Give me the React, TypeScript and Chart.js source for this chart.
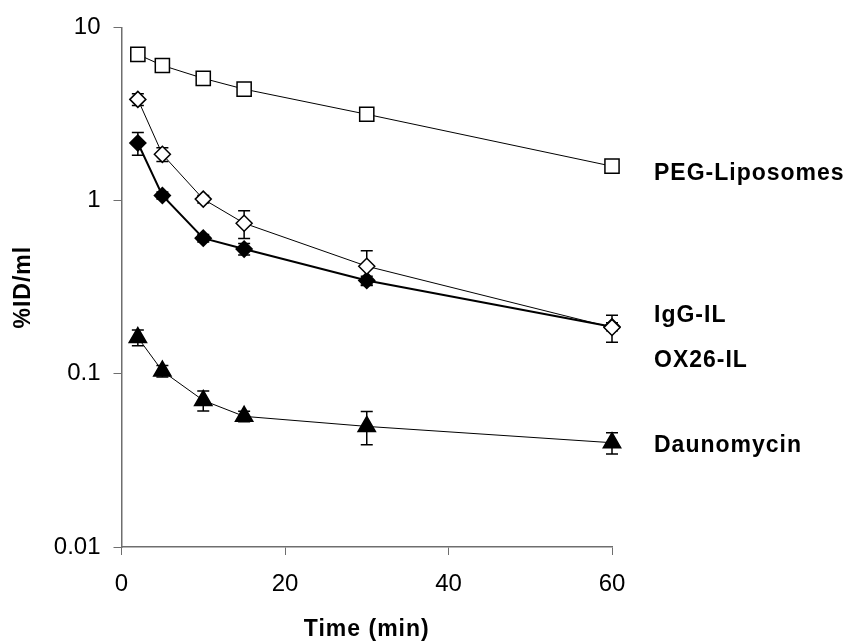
import React, { useEffect, useRef } from "react";
import { Chart, registerables } from "chart.js";

Chart.register(...registerables);

// ---- data ----
const timePoints = [2, 5, 10, 15, 30, 60];
const pegLiposomes = [6.98, 6.03, 5.08, 4.4, 3.15, 1.58];
const pegLiposomesErr = [0.2, 0.15, 0.12, 0.1, 0.08, 0.04];
const iggIL = [3.84, 1.85, 1.02, 0.74, 0.418, 0.185];
const iggILErr = [0.3, 0.17, 0.05, 0.135, 0.095, 0.033];
const ox26IL = [2.15, 1.07, 0.607, 0.525, 0.346, 0.187];
const ox26ILErr = [0.32, 0.05, 0.03, 0.04, 0.02, 0.01];
const daunomycin = [0.162, 0.1037, 0.0702, 0.0568, 0.0497, 0.04];
const daunomycinErr = [0.017, 0.008, 0.0093, 0.004, 0.0108, 0.0056];
const seriesNames = ["PEG-Liposomes", "IgG-IL", "OX26-IL", "Daunomycin"];
const xTicks = [0, 20, 40, 60];
const yTicks = [0.01, 0.1, 1, 10];
const xTitle = "Time (min)";
const yTitle = "%ID/ml";
// label anchor values (y, in data units) for the series names on the right
const labelAnchors = [1.43, 0.217, 0.119, 0.0385];

const FONT = "'Liberation Sans', Arial, Helvetica, sans-serif";

const toPoints = (ys: number[]) => ys.map((y, i) => ({ x: timePoints[i], y }));

const errorBarPlugin = {
  id: "errorBars",
  beforeDatasetsDraw(chart: any) {
    const ctx = chart.ctx;
    const xs = chart.scales.x;
    const ys = chart.scales.y;
    chart.data.datasets.forEach((ds: any) => {
      const errs: number[] | undefined = ds.errors;
      if (!errs) return;
      ctx.save();
      ctx.strokeStyle = "#000";
      ctx.lineWidth = 1.5;
      ds.data.forEach((p: any, j: number) => {
        const e = errs[j];
        if (!e) return;
        const px = xs.getPixelForValue(p.x);
        const top = ys.getPixelForValue(p.y + e);
        const bot = ys.getPixelForValue(p.y - e);
        ctx.beginPath();
        ctx.moveTo(px, top);
        ctx.lineTo(px, bot);
        ctx.moveTo(px - 6, top);
        ctx.lineTo(px + 6, top);
        ctx.moveTo(px - 6, bot);
        ctx.lineTo(px + 6, bot);
        ctx.stroke();
      });
      ctx.restore();
    });
  },
};

const textPlugin = {
  id: "texts",
  afterDraw(chart: any) {
    const ctx = chart.ctx;
    const area = chart.chartArea;
    const ys = chart.scales.y;
    ctx.save();
    ctx.fillStyle = "#000";
    ctx.font = `bold 23px ${FONT}`;
    try {
      (ctx as any).letterSpacing = "1px";
    } catch (e) {}
    ctx.textBaseline = "middle";
    ctx.textAlign = "left";
    seriesNames.forEach((name, i) => {
      ctx.fillText(name, area.right + 42, ys.getPixelForValue(labelAnchors[i]));
    });
    // x title
    ctx.textAlign = "center";
    ctx.fillText(xTitle, (area.left + area.right) / 2, 630);
    // y title
    ctx.save();
    ctx.translate(24, (area.top + area.bottom) / 2);
    ctx.rotate(-Math.PI / 2);
    ctx.fillText(yTitle, 0, 0);
    ctx.restore();
    ctx.restore();
  },
};

export default function App() {
  const ref = useRef<HTMLCanvasElement | null>(null);

  useEffect(() => {
    document.body.style.margin = "0";
    if (!ref.current) return;
    const common = {
      borderColor: "#000",
      pointBorderColor: "#000",
      pointBorderWidth: 1.5,
      tension: 0,
      fill: false,
      clip: false,
    };
    const chart = new Chart(ref.current, {
      type: "line",
      data: {
        datasets: [
          {
            ...common,
            label: seriesNames[0],
            data: toPoints(pegLiposomes),
            errors: pegLiposomesErr,
            borderWidth: 1,
            pointStyle: "rect",
            pointRadius: 10,
            pointBackgroundColor: "#fff",
          } as any,
          {
            ...common,
            label: seriesNames[1],
            data: toPoints(iggIL),
            errors: iggILErr,
            borderWidth: 1,
            pointStyle: "rectRot",
            pointRadius: 8,
            pointBackgroundColor: "#fff",
          } as any,
          {
            ...common,
            label: seriesNames[2],
            data: toPoints(ox26IL),
            errors: ox26ILErr,
            borderWidth: 2,
            pointStyle: "rectRot",
            pointRadius: 8,
            pointBackgroundColor: "#000",
          } as any,
          {
            ...common,
            label: seriesNames[3],
            data: toPoints(daunomycin),
            errors: daunomycinErr,
            borderWidth: 1,
            pointStyle: "triangle",
            pointRadius: 10,
            pointBackgroundColor: "#000",
          } as any,
        ],
      },
      options: {
        animation: false,
        responsive: false,
        devicePixelRatio: 1,
        layout: { padding: { top: 24, right: 238, bottom: 0, left: 0 } },
        plugins: {
          legend: { display: false },
          tooltip: { enabled: false },
          title: { display: false },
        },
        scales: {
          x: {
            type: "linear",
            min: 0,
            max: 60,
            afterFit: (s: any) => {
              s.height = 96;
            },
            afterBuildTicks: (s: any) => {
              s.ticks = xTicks.map((v) => ({ value: v }));
            },
            ticks: {
              color: "#000",
              font: { family: FONT, size: 24 },
              padding: 15,
              maxRotation: 0,
            },
            grid: {
              drawOnChartArea: false,
              drawTicks: true,
              tickLength: 8,
              color: "#6e6e6e",
              lineWidth: 1,
            },
            border: { display: true, color: "#6e6e6e", width: 1.5 },
          },
          y: {
            type: "logarithmic",
            min: 0.01,
            max: 10,
            afterFit: (s: any) => {
              s.width = 121.5;
            },
            afterBuildTicks: (s: any) => {
              s.ticks = yTicks.map((v) => ({ value: v }));
            },
            ticks: {
              color: "#000",
              font: { family: FONT, size: 24 },
              padding: 13,
              callback: (v: any) => String(Number(v)),
            },
            grid: {
              drawOnChartArea: false,
              drawTicks: true,
              tickLength: 8,
              color: "#6e6e6e",
              lineWidth: 1,
            },
            border: { display: true, color: "#6e6e6e", width: 1.5 },
          },
        },
      } as any,
      plugins: [errorBarPlugin, textPlugin],
    });
    return () => chart.destroy();
  }, []);

  return (
    <div style={{ width: 850, height: 643 }}>
      <canvas ref={ref} width={850} height={643} style={{ display: "block" }} />
    </div>
  );
}
